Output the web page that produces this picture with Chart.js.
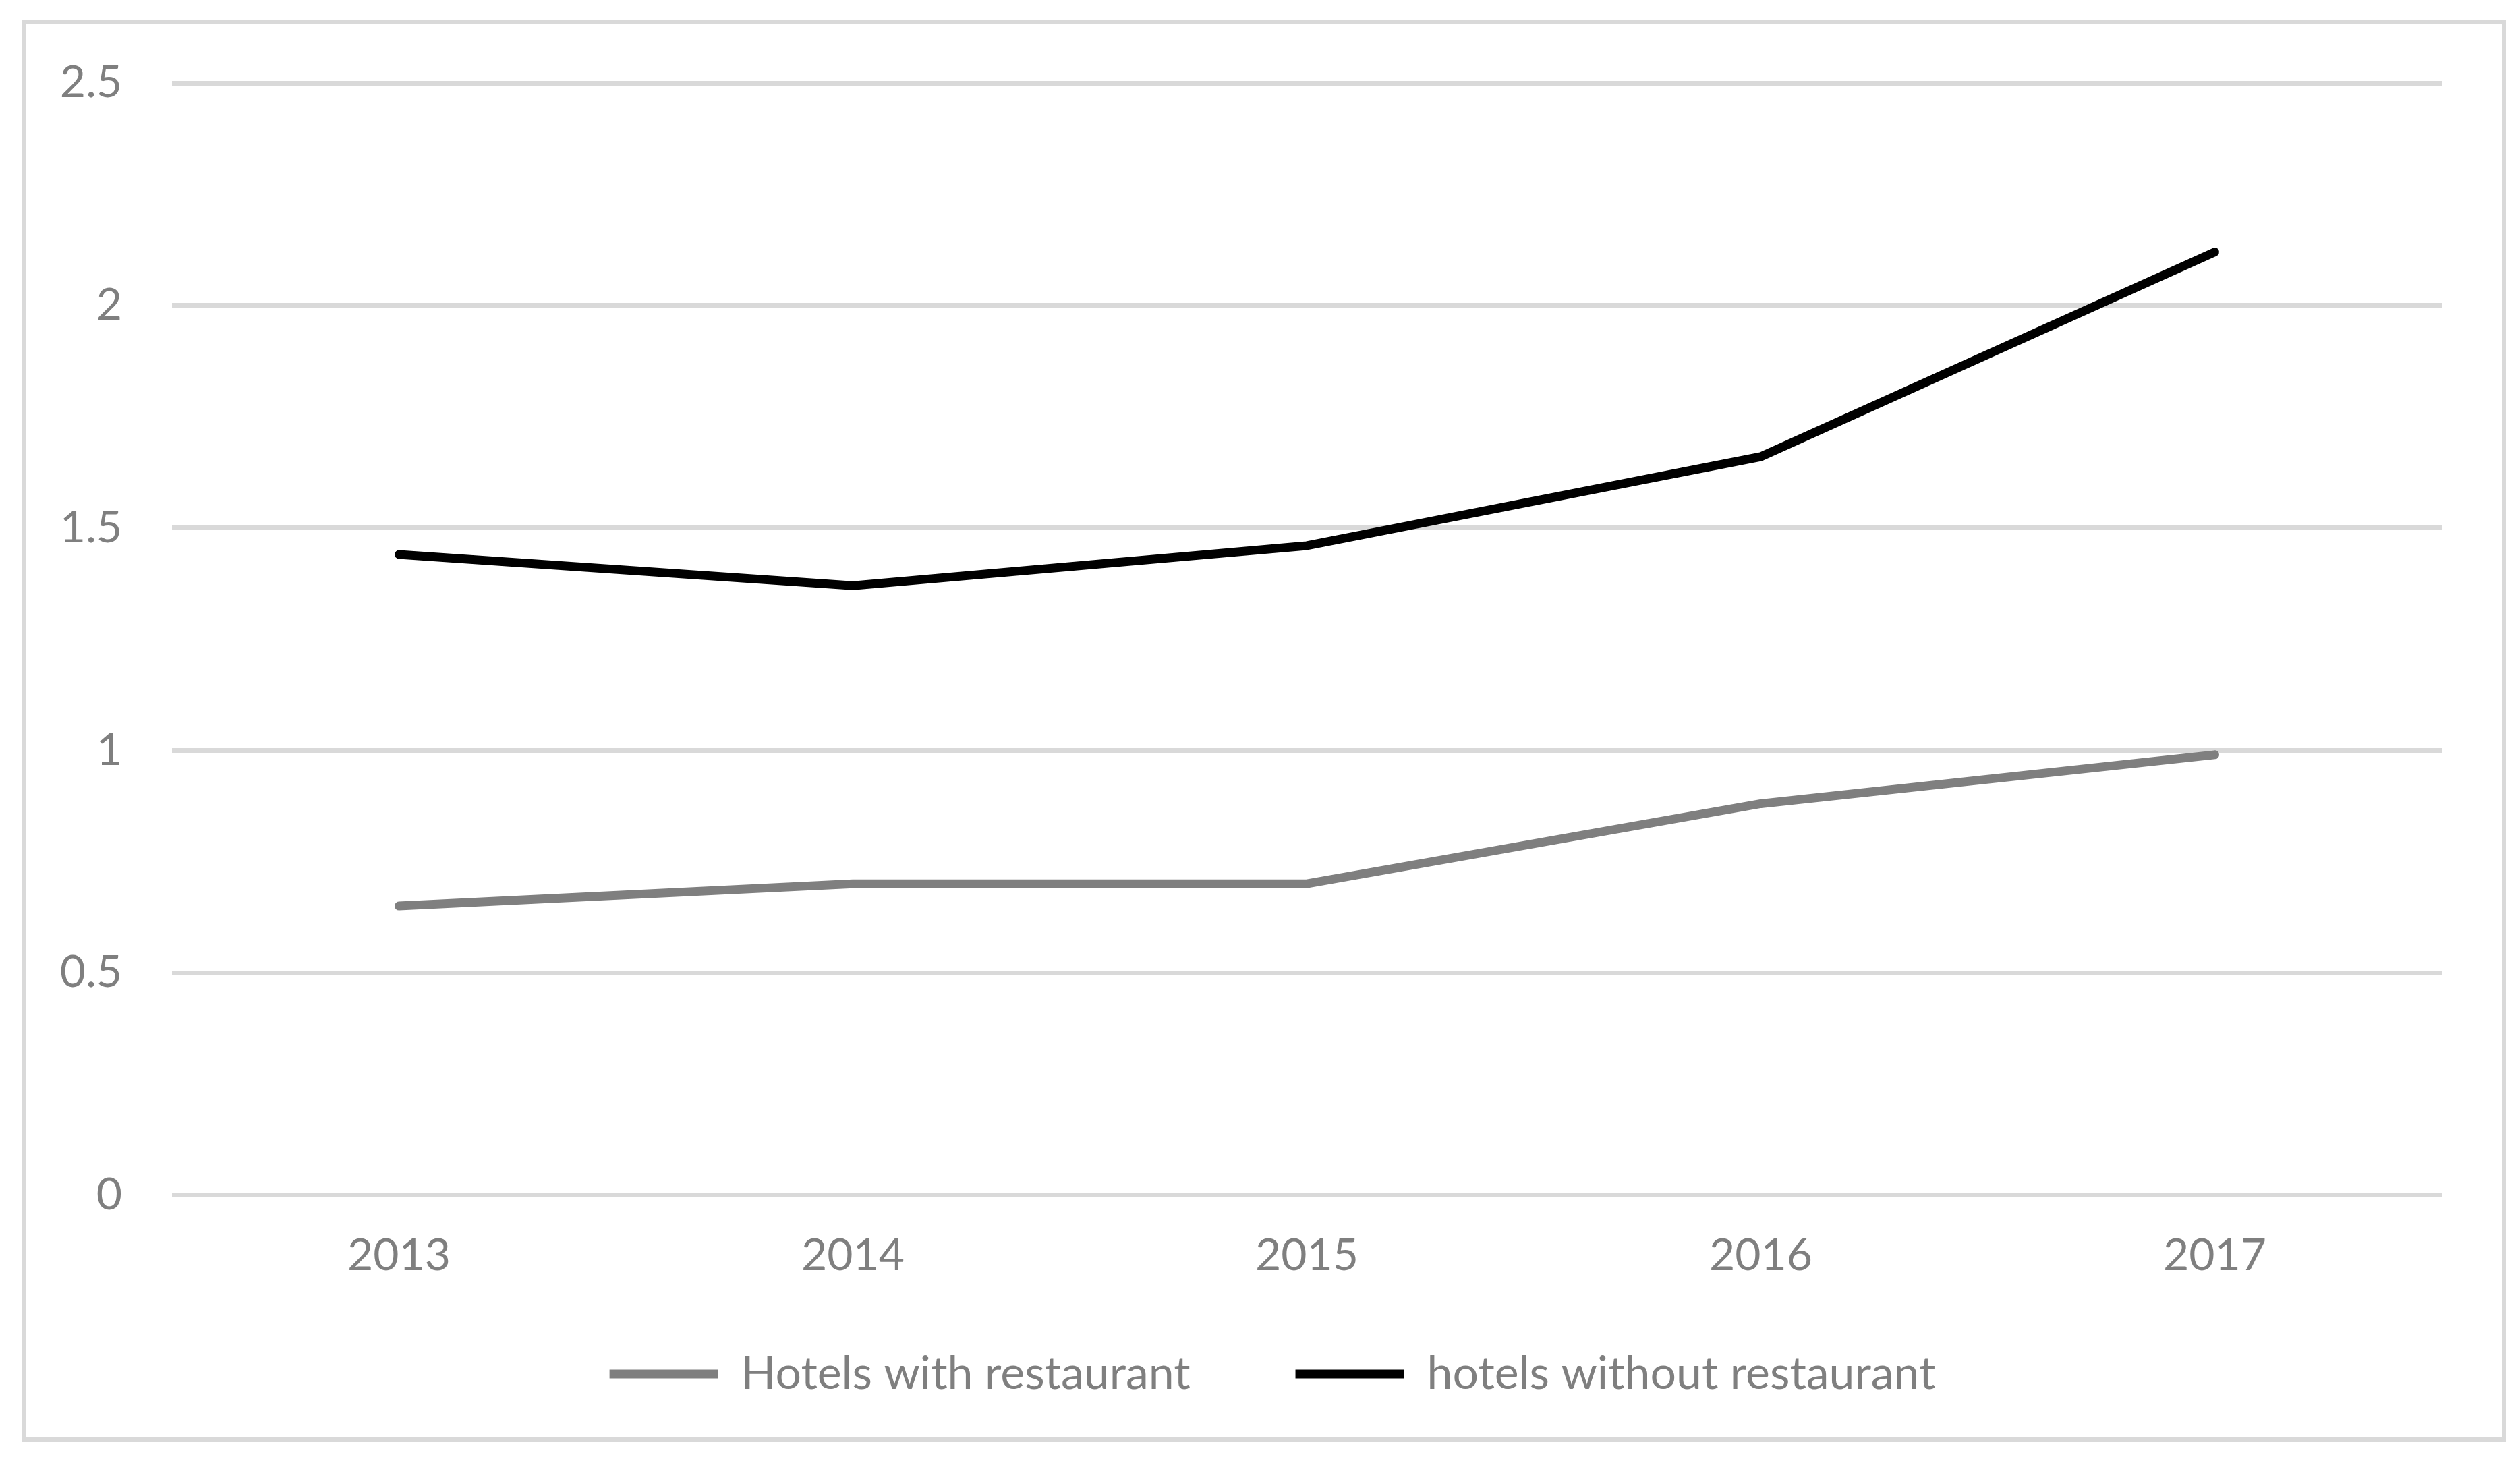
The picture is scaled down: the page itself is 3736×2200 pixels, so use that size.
<!DOCTYPE html>
<html>
<head>
<meta charset="utf-8">
<script src="https://cdn.jsdelivr.net/npm/chart.js@4/dist/chart.umd.min.js"></script>
<style>
  html, body { margin: 0; padding: 0; background: #ffffff; width: 3736px; height: 2200px; overflow: hidden; }
  #frame {
    position: absolute; left: 33px; top: 30px; width: 3682px; height: 2107px;
    box-sizing: border-box; border: 6px solid #d9d9d9; overflow: hidden; background: #ffffff;
  }
  #c { position: absolute; left: 0; top: 0; }
</style>
</head>
<body>
<div id="frame"><canvas id="c" width="3670" height="2149" style="width:3670px;height:2149px"></canvas></div>
<script>
// ---- data ----
const categories = ['2013', '2014', '2015', '2016', '2017'];
const withRestaurant = [0.65, 0.70, 0.70, 0.88, 0.99];
const withoutRestaurant = [1.44, 1.37, 1.46, 1.66, 2.12];
const seriesNames = ['Hotels with restaurant', 'hotels without restaurant'];
const yTickValues = [0, 0.5, 1, 1.5, 2, 2.5];

const FONT = { family: 'Lato, "Open Sans", sans-serif', size: 66 };
const LEGEND_FONT = { family: 'Lato, "Open Sans", sans-serif', size: 68 };
const TEXT_COLOR = '#7f7f7f';

// moves the legend block to where the reference places it
const legendShift = {
  id: 'legendShift',
  afterLayout(chart) {
    const lg = chart.legend;
    if (!lg) return;
    const dx = 37, dy = -104;
    lg.left += dx; lg.right += dx; lg.top += dy; lg.bottom += dy;
  }
};

new Chart(document.getElementById('c'), {
  type: 'line',
  data: {
    labels: categories,
    datasets: [
      {
        label: seriesNames[0],
        data: withRestaurant,
        borderColor: '#7f7f7f',
        backgroundColor: '#7f7f7f',
        borderWidth: 13,
        borderCapStyle: 'round',
        borderJoinStyle: 'round',
        pointRadius: 0,
        pointHoverRadius: 0,
        tension: 0
      },
      {
        label: seriesNames[1],
        data: withoutRestaurant,
        borderColor: '#000000',
        backgroundColor: '#000000',
        borderWidth: 13,
        borderCapStyle: 'round',
        borderJoinStyle: 'round',
        pointRadius: 0,
        pointHoverRadius: 0,
        tension: 0
      }
    ]
  },
  options: {
    responsive: false,
    maintainAspectRatio: false,
    animation: false,
    devicePixelRatio: 1,
    layout: { padding: { left: 40, right: 89, top: 87, bottom: 0 } },
    plugins: {
      tooltip: { enabled: false },
      title: { display: false },
      legend: {
        display: true,
        position: 'bottom',
        align: 'center',
        labels: {
          usePointStyle: true,
          pointStyle: 'line',
          pointStyleWidth: 161,
          padding: 156,
          color: TEXT_COLOR,
          font: LEGEND_FONT
        }
      }
    },
    scales: {
      x: {
        offset: true,
        grid: { display: false, drawTicks: false },
        border: { display: false },
        ticks: { color: TEXT_COLOR, font: FONT, padding: 50, maxRotation: 0 }
      },
      y: {
        min: yTickValues[0],
        max: yTickValues[yTickValues.length - 1],
        grid: {
          color: '#d9d9d9', lineWidth: 7,
          drawTicks: true, tickLength: 44, tickColor: 'rgba(0,0,0,0)'
        },
        border: { display: false },
        ticks: {
          stepSize: yTickValues[1] - yTickValues[0],
          color: TEXT_COLOR,
          font: FONT,
          padding: 30,
          callback: (v) => String(Number(v))
        },
        afterFit: (s) => { s.width = 176; }
      }
    }
  },
  plugins: [legendShift]
});
</script>
</body>
</html>
